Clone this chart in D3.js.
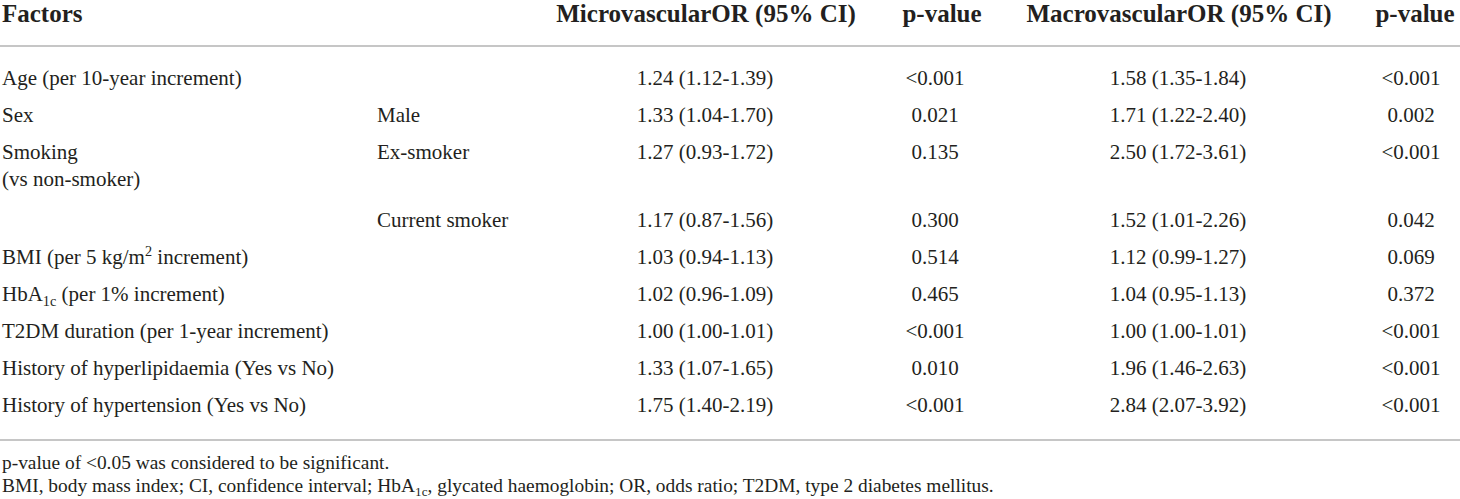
<!doctype html>
<html>
  <head>
    <meta charset="utf-8">
    <title>OR table with D3</title>
    <script src="https://cdnjs.cloudflare.com/ajax/libs/d3/7.8.5/d3.min.js"></script>
    <style>
      body { margin: 0; background: #fff; }
      svg text { font-family: "Liberation Serif", "DejaVu Serif", serif; fill: #231f20; }
    </style>
  </head>
  <body>
    <div id="my-table"></div>

    <script>

    // data: one entry per table row ("\n" = line break, _{..} subscript, ^{..} superscript)
    let headers = ["Factors", "", "MicrovascularOR (95% CI)", "p-value", "MacrovascularOR (95% CI)", "p-value"];

    let factors = [
      "Age (per 10-year increment)",
      "Sex",
      "Smoking\n(vs non-smoker)",
      "",
      "BMI (per 5 kg/m^{2} increment)",
      "HbA_{1c} (per 1% increment)",
      "T2DM duration (per 1-year increment)",
      "History of hyperlipidaemia (Yes vs No)",
      "History of hypertension (Yes vs No)"
    ];
    let subgroups = ["", "Male", "Ex-smoker", "Current smoker", "", "", "", "", ""];
    let microOR = ["1.24 (1.12-1.39)", "1.33 (1.04-1.70)", "1.27 (0.93-1.72)", "1.17 (0.87-1.56)",
                   "1.03 (0.94-1.13)", "1.02 (0.96-1.09)", "1.00 (1.00-1.01)", "1.33 (1.07-1.65)", "1.75 (1.40-2.19)"];
    let microP = ["<0.001", "0.021", "0.135", "0.300", "0.514", "0.465", "<0.001", "0.010", "<0.001"];
    let macroOR = ["1.58 (1.35-1.84)", "1.71 (1.22-2.40)", "2.50 (1.72-3.61)", "1.52 (1.01-2.26)",
                   "1.12 (0.99-1.27)", "1.04 (0.95-1.13)", "1.00 (1.00-1.01)", "1.96 (1.46-2.63)", "2.84 (2.07-3.92)"];
    let macroP = ["<0.001", "0.002", "<0.001", "0.042", "0.069", "0.372", "<0.001", "<0.001", "<0.001"];

    let footnotes = [
      "p-value of <0.05 was considered to be significant.",
      "BMI, body mass index; CI, confidence interval; HbA_{1c}, glycated haemoglobin; OR, odds ratio; T2DM, type 2 diabetes mellitus."
    ];

    // layout
    let width = 1460, height = 499;
    let rowStep = 37, lineStep = 27, extraLine = 31;

    let columns = [
      { key: "factor", x: 2, hx: 2, anchor: "start" },
      { key: "sub", x: 377, hx: 377, anchor: "start" },
      { key: "microOR", x: 705, hx: 706, anchor: "middle" },
      { key: "microP", x: 935, hx: 942, anchor: "middle" },
      { key: "macroOR", x: 1178, hx: 1179, anchor: "middle" },
      { key: "macroP", x: 1411, hx: 1415, anchor: "middle" }
    ];

    let rows = factors.map((f, i) => ({
      factor: f, sub: subgroups[i],
      microOR: microOR[i], microP: microP[i],
      macroOR: macroOR[i], macroP: macroP[i]
    }));

    // row baselines: cumulative heights, taller rows for wrapped labels
    let offsets = [];
    let acc = 0;
    rows.forEach(r => {
      offsets.push(acc);
      acc += rowStep + (r.factor.split("\n").length - 1) * extraLine;
    });
    let yRow = d3.scaleLinear().domain([0, 1]).range([85, 86]);   // 1px per unit offset

    let svg = d3.select("#my-table")
      .append("svg")
      .attr("width", width)
      .attr("height", height);

    // writes text with _{sub} and ^{sup} parts as tspans
    function richText(sel, str, size) {
      let parts = str.split(/(_\{[^}]*\}|\^\{[^}]*\})/).filter(p => p.length);
      let back = 0;
      parts.forEach(p => {
        if (p.startsWith("_{") || p.startsWith("^{")) {
          let shift = p.startsWith("_{") ? size * 0.22 : -size * 0.38;
          sel.append("tspan").text(p.slice(2, -1))
            .attr("font-size", size * 0.68).attr("dy", shift + back);
          back = -shift;
        } else {
          let ts = sel.append("tspan").text(p);
          if (back) ts.attr("dy", back);
          back = 0;
        }
      });
    }

    // header
    svg.selectAll("text.head")
      .data(columns.map((c, i) => ({ c: c, t: headers[i] })).filter(d => d.t))
      .join("text")
      .attr("class", "head")
      .attr("x", d => d.c.hx)
      .attr("y", 22)
      .attr("text-anchor", d => d.c.anchor)
      .attr("font-size", 25)
      .attr("font-weight", "bold")
      .text(d => d.t);

    // rules
    svg.selectAll("line.rule")
      .data([46, 440])
      .join("line")
      .attr("x1", 0).attr("x2", width)
      .attr("y1", d => d).attr("y2", d => d)
      .style("stroke", "#c6c6c6")
      .style("stroke-width", 2);

    // body cells
    let rowG = svg.selectAll("g.row")
      .data(rows)
      .join("g")
      .attr("class", "row")
      .attr("transform", (d, i) => `translate(0,${yRow(offsets[i])})`);

    columns.forEach(c => {
      rowG.each(function(d) {
        let val = d[c.key];
        if (!val) return;
        val.split("\n").forEach((line, li) => {
          let t = d3.select(this).append("text")
            .attr("x", c.x)
            .attr("y", li * lineStep)
            .attr("text-anchor", c.anchor)
            .attr("font-size", 21);
          richText(t, line, 21);
        });
      });
    });

    // footnotes
    svg.selectAll("text.foot")
      .data(footnotes)
      .join("text")
      .attr("class", "foot")
      .attr("x", 2)
      .attr("y", (d, i) => 469 + i * 23)
      .attr("font-size", 19.4)
      .each(function(d) { richText(d3.select(this), d, 19.4); });

    </script>
  </body>
</html>
